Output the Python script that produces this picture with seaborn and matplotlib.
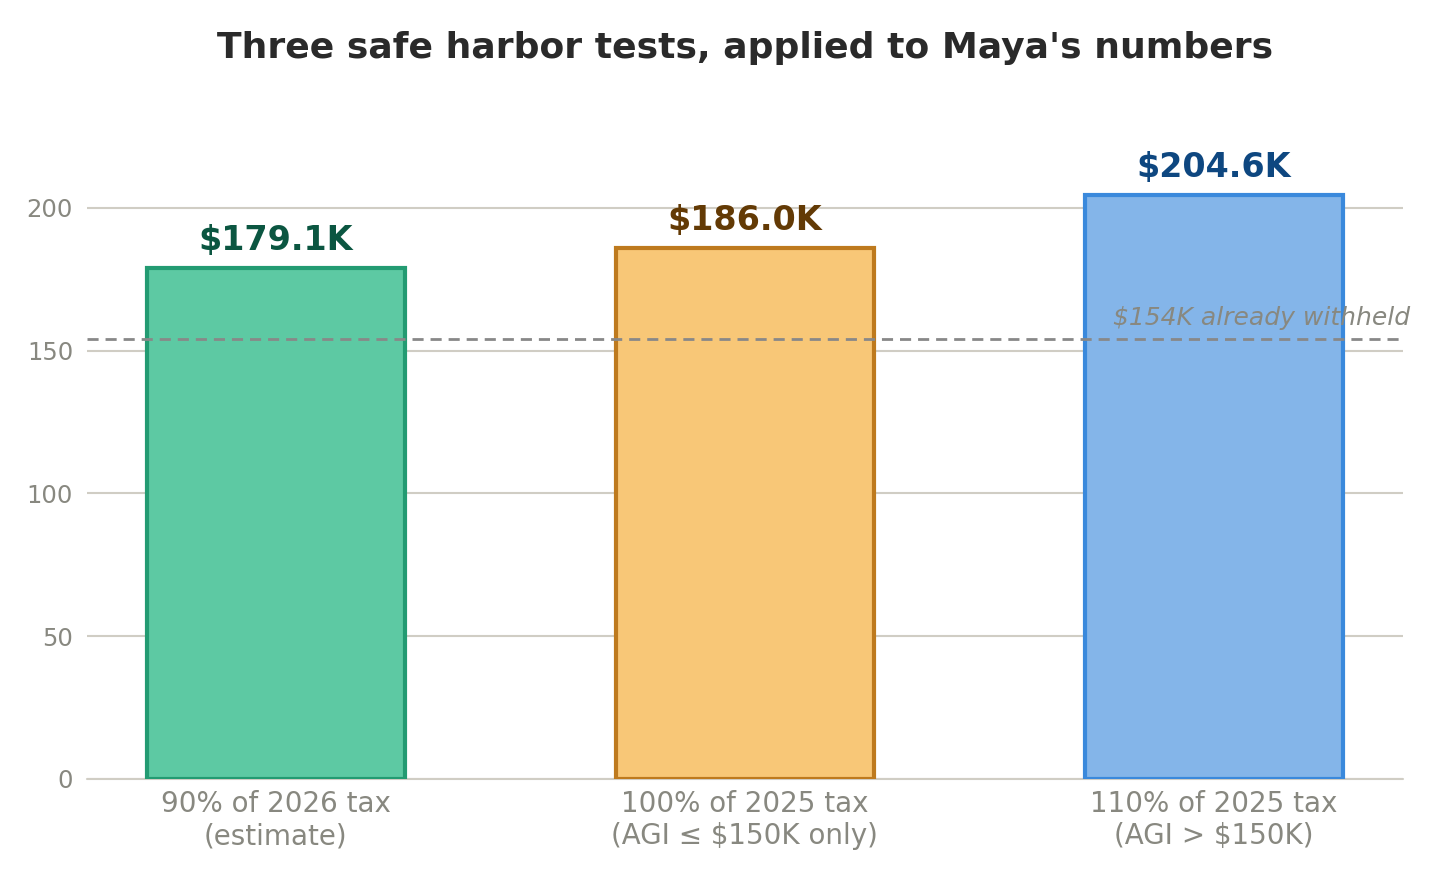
import numpy as np
import pandas as pd
import matplotlib
matplotlib.use("Agg")
import matplotlib.pyplot as plt
import seaborn as sns

# data
tests = ["90% of 2026 tax\n(estimate)", "100% of 2025 tax\n(AGI \u2264 $150K only)", "110% of 2025 tax\n(AGI > $150K)"]
amounts = [179.1, 186.0, 204.6]
withheld = 154

fills = ["#5DC9A3", "#F8C777", "#84B5E9"]
edges = ["#239B72", "#BE7A1E", "#3A89DC"]
label_colors = ["#0B5641", "#633A05", "#0E4780"]

sns.set_theme(style="white")
plt.rcParams['font.family'] = ['DejaVu Sans']

df = pd.DataFrame({'test': tests, 'amount': amounts})

fig = plt.figure(figsize=(14.4, 8.8), dpi=100)
ax = fig.add_axes([0.0604, 0.1148, 0.9136, 0.7462])

sns.barplot(data=df, x='test', y='amount', hue='test', palette=fills, width=0.55,
            legend=False, ax=ax, saturation=1)
for patch, ec in zip(ax.patches, edges):
    patch.set_edgecolor(ec)
    patch.set_linewidth(3)

for i, (v, c) in enumerate(zip(amounts, label_colors)):
    ax.annotate(f"${v:.1f}K", (i, v), xytext=(0, 8), textcoords='offset points',
                ha='center', va='bottom', fontsize=24, fontweight='bold', color=c)

ax.axhline(withheld, color='#888888', linestyle='--', linewidth=2, dashes=(4, 2.5), zorder=3)
ax.text(2.418, withheld + 3.2, "$154K already withheld", ha='right', va='bottom',
        fontsize=18, style='italic', color='#888880', clip_on=False)

ax.set_xlim(-0.4025, 2.4025)
ax.set_ylim(0, 230)
ax.set_yticks([0, 50, 100, 150, 200])
ax.yaxis.grid(True, color='#D0CDC4', linewidth=1.5)
ax.axhline(0, color='#D0CDC4', linewidth=1.5, zorder=0.5, clip_on=False)
ax.set_axisbelow(True)
sns.despine(ax=ax, left=True, bottom=True)
ax.tick_params(axis='y', labelsize=17.5, colors='#888880', length=0, pad=10)
ax.tick_params(axis='x', labelsize=20, colors='#888880', length=0, pad=8)
ax.set_xlabel('')
ax.set_ylabel('')

ax.set_title("Three safe harbor tests, applied to Maya's numbers", fontsize=26,
             fontweight='bold', color='#2A2A2A', pad=46.5)

fig.savefig("out.png", dpi=100)
